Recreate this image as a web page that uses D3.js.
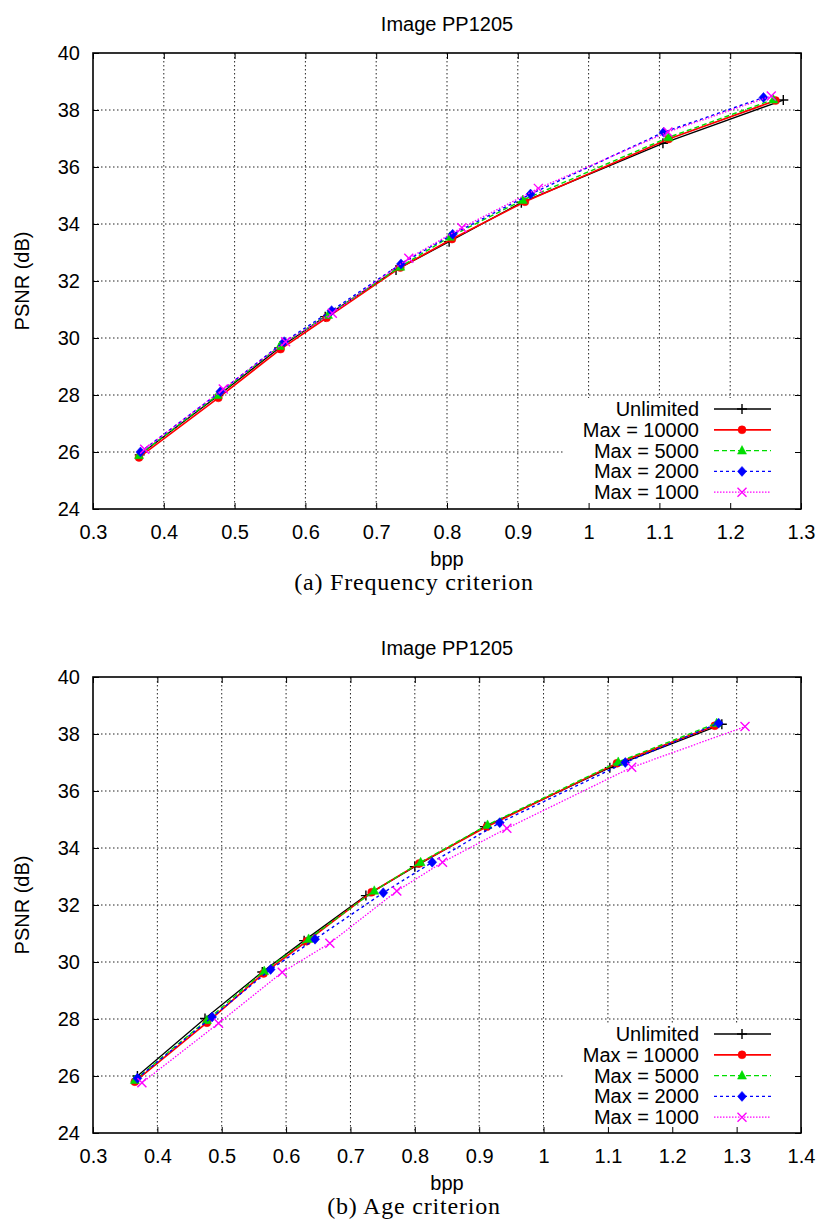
<!DOCTYPE html>
<html>
<head>
<meta charset="utf-8">
<script src="https://cdn.jsdelivr.net/npm/d3@7"></script>
<style>
  body { margin: 0; background: #fff; }
  svg { display: block; }
  .tick text, .lbl { font-family: "Liberation Sans", Arial, sans-serif; font-size: 20px; fill: #000; }
  .cap { font-family: "Liberation Serif", "DejaVu Serif", serif; font-size: 24px; letter-spacing: 0.8px; fill: #000; }
</style>
</head>
<body>
<div id="chart"></div>
<script>
// series and tick values
var seriesNames = ["Unlimited", "Max = 10000", "Max = 5000", "Max = 2000", "Max = 1000"];
var yTicks = [24, 26, 28, 30, 32, 34, 36, 38, 40];
var xTicksFreq = [0.3, 0.4, 0.5, 0.6, 0.7, 0.8, 0.9, 1, 1.1, 1.2, 1.3];
var xTicksAge = [0.3, 0.4, 0.5, 0.6, 0.7, 0.8, 0.9, 1, 1.1, 1.2, 1.3, 1.4];

// (a) Frequency criterion: one row per series
var freqBpp = [
  [0.366, 0.477, 0.563, 0.628, 0.728, 0.803, 0.905, 1.105, 1.275],
  [0.365, 0.477, 0.565, 0.630, 0.734, 0.807, 0.910, 1.113, 1.264],
  [0.365, 0.476, 0.564, 0.632, 0.734, 0.804, 0.907, 1.113, 1.261],
  [0.367, 0.480, 0.570, 0.637, 0.735, 0.808, 0.918, 1.106, 1.247],
  [0.373, 0.484, 0.572, 0.638, 0.746, 0.821, 0.929, 1.112, 1.258]
];
var freqPsnr = [
  [25.90, 27.98, 29.65, 30.75, 32.39, 33.38, 34.75, 36.83, 38.35],
  [25.81, 27.90, 29.61, 30.71, 32.47, 33.47, 34.78, 36.98, 38.33],
  [25.89, 28.00, 29.72, 30.81, 32.50, 33.55, 34.84, 37.04, 38.37],
  [26.00, 28.12, 29.87, 30.96, 32.60, 33.64, 35.05, 37.22, 38.44],
  [26.10, 28.21, 29.87, 30.87, 32.80, 33.87, 35.25, 37.23, 38.49]
];

// (b) Age criterion
var ageBpp = [
  [0.369, 0.474, 0.563, 0.628, 0.724, 0.800, 0.909, 1.103, 1.277],
  [0.365, 0.477, 0.565, 0.632, 0.733, 0.807, 0.912, 1.114, 1.266],
  [0.365, 0.477, 0.566, 0.635, 0.737, 0.809, 0.913, 1.116, 1.269],
  [0.369, 0.485, 0.576, 0.645, 0.751, 0.827, 0.932, 1.127, 1.272],
  [0.376, 0.495, 0.594, 0.668, 0.772, 0.843, 0.943, 1.137, 1.313]
];
var agePsnr = [
  [26.00, 28.02, 29.65, 30.75, 32.33, 33.34, 34.75, 36.82, 38.34],
  [25.80, 27.87, 29.60, 30.73, 32.45, 33.46, 34.75, 36.97, 38.29],
  [25.86, 27.96, 29.68, 30.81, 32.50, 33.50, 34.81, 37.02, 38.38],
  [25.92, 28.07, 29.74, 30.80, 32.43, 33.50, 34.89, 37.00, 38.38],
  [25.76, 27.85, 29.64, 30.66, 32.49, 33.50, 34.69, 36.83, 38.26]
];

var colors = ["#000000", "#ff0000", "#00dd00", "#0000ff", "#ff00ff"];
var dashes = [null, null, "5,3", "3,3", "1.5,1.5"];
var widths = [1.3, 1.7, 1.4, 1.4, 1.3];
var markers = ["plus", "circle", "triangle", "diamond", "cross"];

var svg = d3.select("#chart").append("svg")
  .attr("width", 816)
  .attr("height", 1222);

function markerPath(type) {
  if (type == "plus") return "M-5,0H5M0,-5V5";
  if (type == "cross") return "M-4.5,-4.5L4.5,4.5M-4.5,4.5L4.5,-4.5";
  if (type == "circle") return d3.symbol(d3.symbolCircle, 50)();
  if (type == "triangle") return "M0,-5L4.5,3.5H-4.5Z";
  return "M0,-5L4.5,0L0,5L-4.5,0Z";
}

function drawMarker(g, type, i) {
  var filled = (type == "circle" || type == "triangle" || type == "diamond");
  g.append("path")
    .attr("d", markerPath(type))
    .attr("fill", filled ? colors[i] : "none")
    .attr("stroke", colors[i])
    .attr("stroke-width", filled ? 0.5 : 1.4);
}

function drawPanel(opt) {
  var left = 93, right = 801;
  var top = opt.top, bottom = opt.top + 456;

  var x = d3.scaleLinear().domain(d3.extent(opt.xTicks)).range([left, right]);
  var y = d3.scaleLinear().domain([24, 40]).range([bottom, top]);

  // title
  svg.append("text").attr("class", "lbl")
    .attr("x", 447).attr("y", top - 29)
    .attr("text-anchor", "middle").attr("dy", "0.35em")
    .text("Image PP1205");

  // grid
  var grid = svg.append("g")
    .attr("stroke", "#000").attr("stroke-width", 1)
    .attr("stroke-dasharray", "1.5,2.5").attr("opacity", 0.85);
  grid.selectAll(".gx").data(opt.xTicks.slice(1, -1)).enter().append("line")
    .attr("x1", d => x(d)).attr("x2", d => x(d))
    .attr("y1", top).attr("y2", bottom);
  grid.selectAll(".gy").data(yTicks.slice(1, -1)).enter().append("line")
    .attr("x1", left).attr("x2", right)
    .attr("y1", d => y(d)).attr("y2", d => y(d));

  // opaque key area
  svg.append("rect")
    .attr("x", 565).attr("y", opt.keyTop - 11)
    .attr("width", right - 565).attr("height", bottom - opt.keyTop + 11)
    .attr("fill", "#fff");

  // axes with inward ticks
  var bottomAxis = d3.axisBottom(x).tickValues(opt.xTicks)
    .tickFormat(d3.format("")).tickSizeInner(-6).tickSizeOuter(0).tickPadding(16);
  var leftAxis = d3.axisLeft(y).tickValues(yTicks)
    .tickSizeInner(-6).tickSizeOuter(0).tickPadding(13);

  svg.append("g").attr("transform", `translate(0, ${bottom})`).call(bottomAxis)
    .call(g => g.select(".domain").remove());
  svg.append("g").attr("transform", `translate(${left}, 0)`).call(leftAxis)
    .call(g => g.select(".domain").remove());
  svg.append("g").attr("transform", `translate(0, ${top})`)
    .call(d3.axisTop(x).tickValues(opt.xTicks).tickFormat("").tickSizeInner(-6).tickSizeOuter(0))
    .call(g => g.select(".domain").remove());
  svg.append("g").attr("transform", `translate(${right}, 0)`)
    .call(d3.axisRight(y).tickValues(yTicks).tickFormat("").tickSizeInner(-6).tickSizeOuter(0))
    .call(g => g.select(".domain").remove());
  svg.selectAll(".tick line").attr("stroke", "#000").attr("stroke-width", 1);

  svg.append("rect")
    .attr("x", left).attr("y", top)
    .attr("width", right - left).attr("height", bottom - top)
    .attr("fill", "none").attr("stroke", "#000").attr("stroke-width", 1.6);

  // axis labels
  svg.append("text").attr("class", "lbl")
    .attr("transform", `translate(22, ${(top + bottom) / 2}) rotate(-90)`)
    .attr("text-anchor", "middle").attr("dy", "0.35em")
    .text("PSNR (dB)");
  svg.append("text").attr("class", "lbl")
    .attr("x", 447).attr("y", bottom + 50)
    .attr("text-anchor", "middle").attr("dy", "0.35em")
    .text("bpp");
  svg.append("text").attr("class", "cap")
    .attr("x", 414).attr("y", bottom + 81)
    .attr("text-anchor", "middle")
    .text(opt.caption);

  // series
  seriesNames.forEach(function(name, i) {
    var pts = opt.bpp[i].map((b, j) => [b, opt.psnr[i][j]]);
    var line = d3.line().x(d => x(d[0])).y(d => y(d[1]));
    svg.append("path")
      .attr("d", line(pts))
      .attr("fill", "none")
      .attr("stroke", colors[i])
      .attr("stroke-width", widths[i])
      .attr("stroke-dasharray", dashes[i]);
    pts.forEach(function(p) {
      var g = svg.append("g").attr("transform", `translate(${x(p[0])}, ${y(p[1])})`);
      drawMarker(g, markers[i], i);
    });

    // key entry
    var ky = opt.keyTop + i * 20.8;
    svg.append("text").attr("class", "lbl")
      .attr("x", 699).attr("y", ky)
      .attr("text-anchor", "end").attr("dy", "0.35em")
      .text(name);
    svg.append("line")
      .attr("x1", 714).attr("x2", 771).attr("y1", ky).attr("y2", ky)
      .attr("stroke", colors[i])
      .attr("stroke-width", widths[i])
      .attr("stroke-dasharray", dashes[i]);
    drawMarker(svg.append("g").attr("transform", `translate(742, ${ky})`), markers[i], i);
  });
}

drawPanel({ top: 53, xTicks: xTicksFreq, bpp: freqBpp, psnr: freqPsnr,
  keyTop: 409, caption: "(a) Frequency criterion" });
drawPanel({ top: 677, xTicks: xTicksAge, bpp: ageBpp, psnr: agePsnr,
  keyTop: 1034, caption: "(b) Age criterion" });
</script>
</body>
</html>
